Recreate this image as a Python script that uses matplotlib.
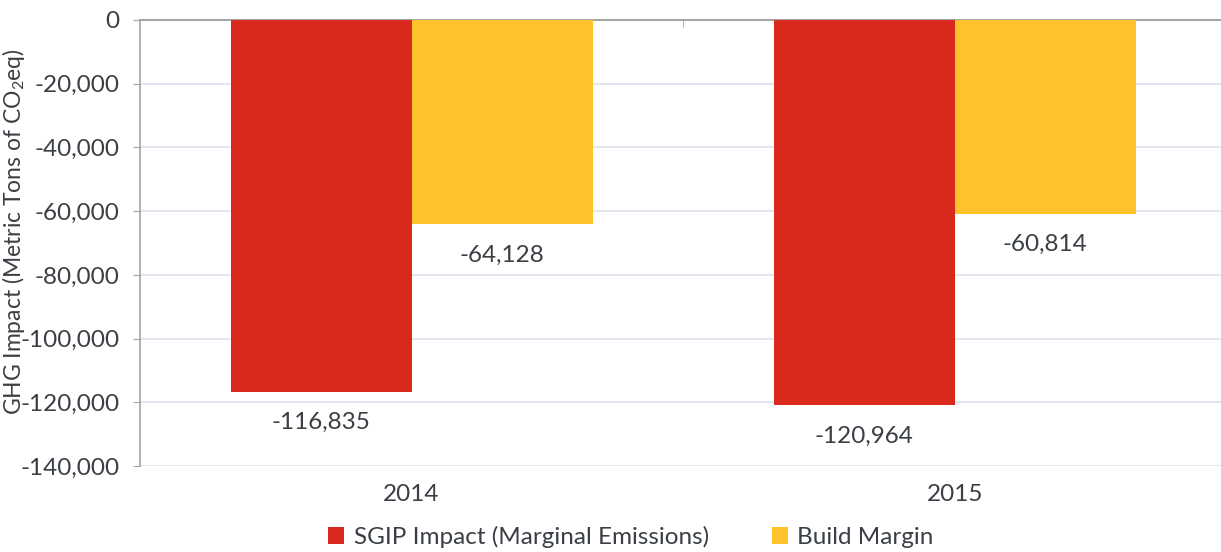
import numpy as np
import matplotlib
matplotlib.use("Agg")
import matplotlib.pyplot as plt
from matplotlib.ticker import FuncFormatter, MultipleLocator

years = ["2014", "2015"]
sgip_impact = [-116835, -120964]
build_margin = [-64128, -60814]
series_names = ["SGIP Impact (Marginal Emissions)", "Build Margin"]
colors = ["#D9291C", "#FFC22B"]

plt.rcParams["font.family"] = ["Lato", "DejaVu Sans"]
plt.rcParams["mathtext.default"] = "regular"
text_color = "#3A3F45"
fs = 17.5

fig = plt.figure(figsize=(12.21, 5.52), dpi=100)
ax = fig.add_axes([140 / 1221, 1 - 466 / 552, 1 - 140 / 1221, 446 / 552])

x = np.arange(len(years))
w = 1 / 3
bars1 = ax.bar(x - w / 2, sgip_impact, w, color=colors[0], label=series_names[0], zorder=3)
bars2 = ax.bar(x + w / 2, build_margin, w, color=colors[1], label=series_names[1], zorder=3)

for bars, vals in [(bars1, sgip_impact), (bars2, build_margin)]:
    for b, v in zip(bars, vals):
        ax.annotate(f"{v:,}", (b.get_x() + b.get_width() / 2, v), xytext=(0, -22),
                    textcoords="offset points", ha="center", va="center",
                    fontsize=fs, color=text_color)

ax.set_ylim(-140000, 0)
ax.set_xlim(-0.5, 1.49)
ax.yaxis.set_major_locator(MultipleLocator(20000))
ax.yaxis.set_major_formatter(FuncFormatter(lambda v, p: f"{int(v):,}"))
ax.grid(axis="y", color="#DCE3EC", linewidth=1.2, zorder=0)

ax.set_xticks(x)
ax.set_xticklabels(years)
ax.set_xticks([0.5], minor=True)
ax.tick_params(axis="x", which="major", length=0, pad=13, labelsize=fs, colors=text_color)
ax.tick_params(axis="x", which="minor", direction="in", length=5, color="#A6A6A6",
               bottom=False, top=True)
ax.tick_params(axis="y", length=5, color="#A6A6A6", pad=10, labelsize=fs, labelcolor=text_color)

for s in ["right", "bottom"]:
    ax.spines[s].set_visible(False)
ax.spines["top"].set_color("#A6A6A6")
ax.spines["top"].set_linewidth(1.5)
ax.spines["left"].set_color("#A6A6A6")
ax.spines["left"].set_linewidth(1.2)

fig.text(14 / 1221, 1 - 232 / 552, "GHG Impact (Metric Tons of CO$_2$eq)", rotation=90,
         ha="center", va="center", fontsize=16.5, color=text_color)

fig.legend(handles=[bars1, bars2], labels=series_names, loc="center",
           bbox_to_anchor=(631 / 1221, 1 - 537 / 552), ncol=2, frameon=False,
           fontsize=fs, handlelength=0.65, handleheight=0.65, handletextpad=0.4,
           columnspacing=2.6, labelcolor=text_color)

fig.savefig("out.png", dpi=100)
